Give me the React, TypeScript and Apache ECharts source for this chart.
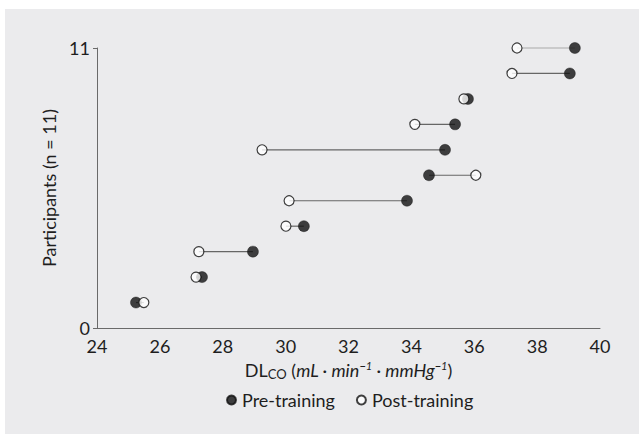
import React, { useEffect, useRef } from "react";
import * as echarts from "echarts";

const participants = [1, 2, 3, 4, 5, 6, 7, 8, 9, 10, 11];
const preTraining = [25.24, 27.34, 28.96, 30.58, 33.86, 34.56, 35.07, 35.39, 35.8, 39.04, 39.2];
const postTraining = [25.49, 27.15, 27.24, 30.01, 30.11, 36.05, 29.25, 34.11, 35.67, 37.2, 37.36];
const xTicks = [24, 26, 28, 30, 32, 34, 36, 38, 40];
const yTicks = [0, 11];

const FONT = "Lato, 'Noto Sans', sans-serif";
const TXT = "#1e1e1e";

export default function App() {
  const ref = useRef<HTMLDivElement>(null);
  useEffect(() => {
    if (!ref.current) return;
    const chart = echarts.init(ref.current, undefined, { renderer: "svg" });
    const pairs = participants.map((p, i) => [preTraining[i], postTraining[i], p]);
    chart.setOption({
      animation: false,
      backgroundColor: "#ebebed",
      textStyle: { fontFamily: FONT },
      grid: { left: 92, right: 39, top: 39, bottom: 106, containLabel: false },
      xAxis: {
        type: "value",
        min: xTicks[0],
        max: xTicks[xTicks.length - 1],
        interval: 2,
        axisLine: { show: true, lineStyle: { color: "#6a6a6a", width: 1 } },
        axisTick: { show: false },
        splitLine: { show: false },
        axisLabel: { color: TXT, fontSize: 18, margin: 9, fontFamily: FONT },
        name: "{n|DL}{s|CO}{n| (}{i|mL · min}{sup|−1}{i| · mmHg}{sup|−1}{n|)}",
        nameLocation: "middle",
        nameGap: 30,
        nameTextStyle: {
          rich: {
            n: { fontSize: 18, color: TXT, fontFamily: FONT },
            i: { fontSize: 18, color: TXT, fontStyle: "italic", fontFamily: FONT },
            s: { fontSize: 13, color: TXT, padding: [9, 0, 0, 0], fontFamily: FONT },
            sup: { fontSize: 11, color: TXT, fontStyle: "italic", padding: [0, 0, 9, 0], fontFamily: FONT },
          },
        },
      },
      yAxis: {
        type: "value",
        min: yTicks[0],
        max: yTicks[1],
        interval: 11,
        axisLine: { show: true, lineStyle: { color: "#6a6a6a", width: 1 } },
        axisTick: { show: true, length: 4, lineStyle: { color: "#6a6a6a" } },
        splitLine: { show: false },
        axisLabel: { color: TXT, fontSize: 18, margin: 7, fontFamily: FONT },
        name: "Participants (n = 11)",
        nameLocation: "middle",
        nameGap: 34,
        nameTextStyle: { color: TXT, fontSize: 18, fontFamily: FONT },
      },
      legend: {
        bottom: 20,
        left: 216,
        itemWidth: 9,
        itemHeight: 9,
        itemGap: 21,
        icon: "circle",
        textStyle: { color: TXT, fontSize: 18, fontFamily: FONT, padding: [0, 0, 0, 1] },
        data: ["Pre-training", "Post-training"],
      },
      series: [
        {
          type: "custom",
          name: "connector",
          data: pairs,
          encode: { x: [0, 1], y: 2 },
          silent: true,
          z: 1,
          renderItem: (params: any, api: any) => {
            const a = api.coord([api.value(0), api.value(2)]);
            const b = api.coord([api.value(1), api.value(2)]);
            return {
              type: "line",
              shape: { x1: a[0], y1: a[1], x2: b[0], y2: b[1] },
              style: { stroke: params.dataIndex === participants.length - 1 ? "#aaaaaa" : "#666666", lineWidth: 1.2 },
            };
          },
        },
        {
          type: "scatter",
          name: "Pre-training",
          data: participants.map((p, i) => [preTraining[i], p]),
          symbol: "circle",
          symbolSize: 11,
          itemStyle: { color: "#111111", borderColor: "#111111", borderWidth: 0.5 },
          z: 2,
        },
        {
          type: "scatter",
          name: "Post-training",
          data: participants.map((p, i) => [postTraining[i], p]),
          symbol: "circle",
          symbolSize: 10,
          itemStyle: { color: "#ffffff", borderColor: "#111111", borderWidth: 1.2 },
          z: 3,
        },
      ],
    });
    return () => chart.dispose();
  }, []);
  return (
    <div style={{ position: "fixed", left: 0, top: 0, width: 639, height: 434, background: "#ffffff" }}>
      <div ref={ref} style={{ position: "absolute", left: 5, top: 9, width: 634, height: 425 }} />
    </div>
  );
}
